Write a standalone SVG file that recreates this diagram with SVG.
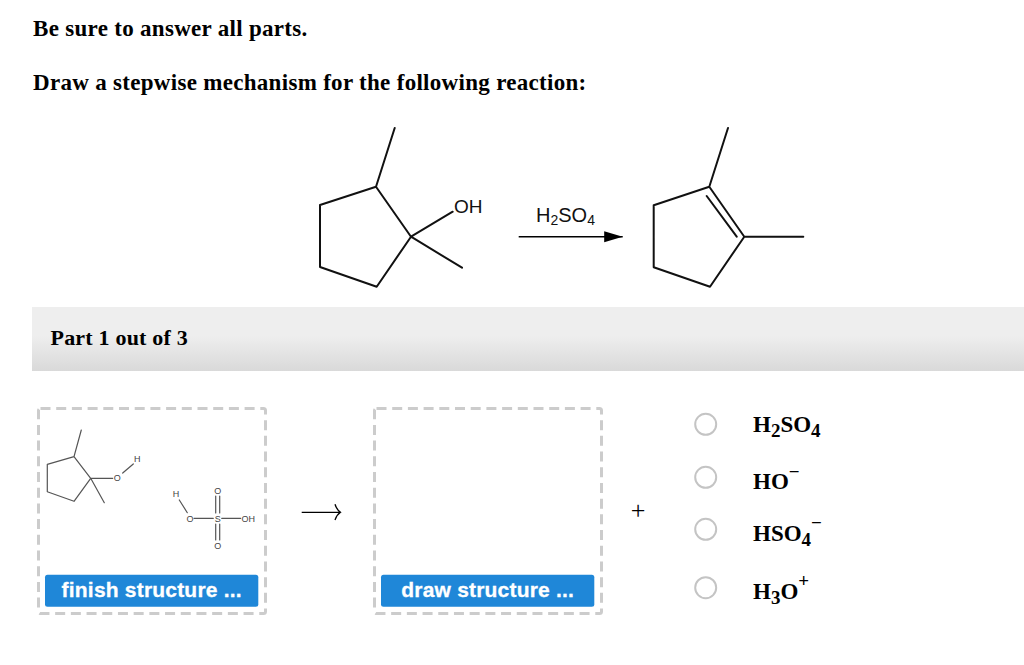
<svg xmlns="http://www.w3.org/2000/svg" width="1024" height="665" viewBox="0 0 1024 665">
<style>
.t{font-family:"Liberation Serif","Times New Roman",serif;font-weight:bold;fill:#000}
.h{font-size:23px;letter-spacing:.3px}
.c{font-size:23px}
.s{font-size:19px}
.b{fill:none;stroke:#111;stroke-width:2;stroke-linecap:round;stroke-linejoin:round}
.m{fill:none;stroke:#555;stroke-width:1.200;stroke-linecap:round;stroke-linejoin:round}
.a{font-family:"Liberation Sans",Arial,sans-serif;fill:#111;font-size:19px}
.n{font-family:"Liberation Sans",Arial,sans-serif;fill:#444;font-size:9px;text-anchor:middle}
.d{fill:none;stroke:#ccc;stroke-width:3;stroke-dasharray:10 5.700}
.btn{fill:#1f87d8}
.bt{font-family:"Liberation Sans",Arial,sans-serif;font-weight:bold;font-size:21px;letter-spacing:.2px;fill:#fff;stroke:#fff;stroke-width:.3;text-anchor:middle}
.r{fill:#fff;stroke:#c4c4c4;stroke-width:2}
</style>
<defs>
<linearGradient id="bar" x1="0" y1="0" x2="0" y2="1">
<stop offset="0" stop-color="#eeeeee"/><stop offset="0.45" stop-color="#eeeeee"/><stop offset="1" stop-color="#d9d9d9"/>
</linearGradient>
<marker id="head" markerUnits="userSpaceOnUse" markerWidth="20" markerHeight="12" refX="18.500" refY="5.500" orient="auto"><path d="M0 0L18.500 5.500L0 11z" fill="#000"/></marker>
</defs>
<rect width="1024" height="665" fill="#fff"/>
<text class="t h" x="33" y="36">Be sure to answer all parts.</text>
<text class="t h" x="33" y="90">Draw a stepwise mechanism for the following reaction:</text>
<g id="reactant">
<path class="b" d="M394.700 128L376 186.700L320 205V267L376.700 286.700L411 236.700L376 186.700M411 236.700L452.700 211.700M411 236.700L462 267.700"/>
<text class="a" x="454" y="213">OH</text>
</g>
<g id="reagent-arrow">
<path d="M518.700 236.700H622.700" fill="none" stroke="#000" stroke-width="1.500" marker-end="url(#head)"/>
<text class="a" x="536" y="222" style="font-size:20px">H<tspan style="font-size:14px" dy="3">2</tspan><tspan dy="-3">SO</tspan><tspan style="font-size:14px" dy="3">4</tspan></text>
</g>
<g id="product">
<path class="b" d="M728 128L709.300 186.700L653.700 205.300V267.300L710 286.700L744.300 236.700L709.300 186.700M744.300 236.700H803.300M706.700 196L736.700 236.700"/>
</g>
<g id="part-banner">
<rect x="32" y="307" width="992" height="64" fill="url(#bar)"/>
<text class="t" x="50.500" y="345" font-size="22" letter-spacing=".2">Part 1 out of 3</text>
</g>
<g id="box-left">
<rect class="d" x="38.500" y="408.500" width="227" height="205" rx="2"/>
<path class="m" d="M81.300 430L74 456.700L47.300 464.300V491.700L74 501.300L90.700 478.300L74 456.700M90.700 478.300H112.700M90.700 478.300L104.300 502.700M122.700 473L133.300 464"/>
<text class="n" x="117.300" y="481.200">O</text>
<text class="n" x="137.300" y="461.900">H</text>
<path class="m" d="M179.300 500L187.300 512.700M194 518.300H213.300M221.700 518.300H240.700M215.700 496V513M219.700 496V513M215.700 524V540M219.700 524V540"/>
<text class="n" x="176" y="497.200">H</text>
<text class="n" x="190" y="521.500">O</text>
<text class="n" x="217.700" y="521.500">S</text>
<text class="n" x="248.300" y="521.500">OH</text>
<text class="n" x="217.700" y="493.500">O</text>
<text class="n" x="217.700" y="549">O</text>
<rect class="btn" x="45" y="574.700" width="213.300" height="32" rx="2.500"/>
<text class="bt" x="151.700" y="597">finish structure ...</text>
</g>
<g id="step-arrow">
<path d="M301.700 512.300H340M335 504.300Q336.500 509.500 340.500 512.300Q336.500 515 335 520" fill="none" stroke="#000" stroke-width="1.300"/>
</g>
<g id="box-right">
<rect class="d" x="374.500" y="408.500" width="227" height="205" rx="2"/>
<rect class="btn" x="381" y="574.700" width="213.300" height="32" rx="2.500"/>
<text class="bt" x="487.700" y="597">draw structure ...</text>
</g>
<text id="plus" x="638" y="518.500" font-family="Liberation Serif,serif" font-size="26" fill="#000" text-anchor="middle">+</text>
<g id="choice-1"><circle class="r" cx="705.700" cy="424.300" r="10.500"/><text class="t c" x="753" y="432">H<tspan class="s" dy="5">2</tspan><tspan dy="-5">SO</tspan><tspan class="s" dy="5">4</tspan></text></g>
<g id="choice-2"><circle class="r" cx="705.700" cy="477.300" r="10.500"/><text class="t c" x="753" y="489">HO<tspan class="s" dy="-11">−</tspan></text></g>
<g id="choice-3"><circle class="r" cx="705.700" cy="529.300" r="10.500"/><text class="t c" x="753" y="541">HSO<tspan class="s" dy="5">4</tspan><tspan class="s" dy="-17">−</tspan></text></g>
<g id="choice-4"><circle class="r" cx="705.700" cy="587.700" r="10.500"/><text class="t c" x="753" y="599">H<tspan class="s" dy="5">3</tspan><tspan dy="-5">O</tspan><tspan class="s" dy="-12">+</tspan></text></g>
</svg>
